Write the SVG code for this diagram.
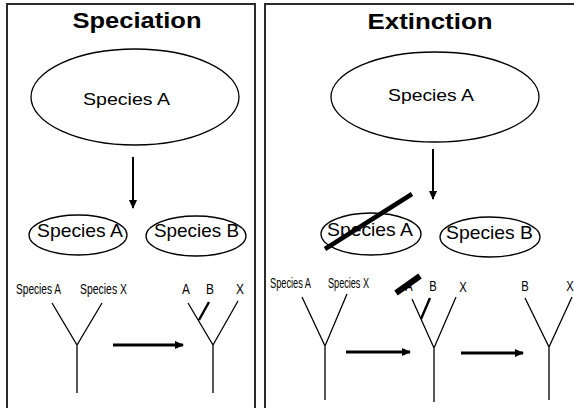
<svg xmlns="http://www.w3.org/2000/svg" width="574" height="408" viewBox="0 0 574 408">
  <defs>
    <style>
      .panel { fill: none; stroke: #2b2b2b; stroke-width: 2; }
      .title { font-family: "Liberation Sans", Arial, sans-serif; font-weight: bold; font-size: 22px; fill: #000; text-anchor: middle; }
      .node { fill: #fff; stroke: #000; stroke-width: 1.3; }
      .big { font-family: "Liberation Sans", Arial, sans-serif; font-size: 17px; fill: #000; }
      .mid { font-family: "Liberation Sans", Arial, sans-serif; font-size: 18.5px; fill: #000; }
      .lbl { font-family: "Liberation Sans", Arial, sans-serif; font-size: 14px; fill: #000; }
      .tree { fill: none; stroke: #000; stroke-width: 1.3; }
      .branch { fill: none; stroke: #000; stroke-width: 2.4; }
      .vlink { fill: none; stroke: #000; stroke-width: 2; marker-end: url(#head); }
      .hlink { fill: none; stroke: #000; stroke-width: 3; marker-end: url(#head); }
      .cross { fill: none; stroke: #000; stroke-width: 4.5; }
      .bar { fill: none; stroke: #000; stroke-width: 6; }
    </style>
    <marker id="head" markerUnits="userSpaceOnUse" markerWidth="9" markerHeight="8" refX="8" refY="4" orient="auto">
      <path d="M0,0 L9,4 L0,8 z" fill="#000"/>
    </marker>
  </defs>

  <rect width="574" height="408" fill="#fff"/>

  <!-- panel frames -->
  <rect class="panel" x="7" y="4" width="248" height="420"/>
  <rect class="panel" x="265" y="4" width="340" height="420"/>

  <!-- titles -->
  <text class="title" x="137" y="28" textLength="129" lengthAdjust="spacingAndGlyphs">Speciation</text>
  <text class="title" x="430" y="29" textLength="125" lengthAdjust="spacingAndGlyphs">Extinction</text>

  <!-- Speciation panel -->
  <g id="spec-parent">
    <ellipse class="node" cx="135" cy="97" rx="104" ry="48"/>
    <text class="big" x="83" y="105" textLength="87" lengthAdjust="spacingAndGlyphs">Species A</text>
  </g>
  <g id="spec-child-a">
    <ellipse class="node" cx="78" cy="235" rx="49" ry="20"/>
    <text class="mid" x="37" y="237" textLength="86" lengthAdjust="spacingAndGlyphs">Species A</text>
  </g>
  <g id="spec-child-b">
    <ellipse class="node" cx="196" cy="236" rx="50" ry="20"/>
    <text class="mid" x="154" y="237" textLength="85" lengthAdjust="spacingAndGlyphs">Species B</text>
  </g>

  <g id="spec-tree-before">
    <text class="lbl" x="16" y="294" textLength="45" lengthAdjust="spacingAndGlyphs">Species A</text>
    <text class="lbl" x="80" y="294" textLength="47" lengthAdjust="spacingAndGlyphs">Species X</text>
    <path class="tree" d="M52,303 L77,345 L102,303 M77,345 L77,393"/>
  </g>
  <g id="spec-tree-after">
    <text class="lbl" x="186" y="294" text-anchor="middle" transform="translate(186 0) scale(0.85 1) translate(-186 0)">A</text>
    <text class="lbl" x="210" y="294" text-anchor="middle" transform="translate(210 0) scale(0.85 1) translate(-210 0)">B</text>
    <text class="lbl" x="240" y="294" text-anchor="middle" transform="translate(240 0) scale(0.85 1) translate(-240 0)">X</text>
    <path class="tree" d="M188,303 L213,345 L238,301 M213,345 L213,393"/>
    <path class="branch" d="M209,302 L199,320"/>
  </g>

  <!-- Extinction panel -->
  <g id="ext-parent">
    <ellipse class="node" cx="435" cy="97" rx="104" ry="45"/>
    <text class="big" x="388" y="101" textLength="86" lengthAdjust="spacingAndGlyphs">Species A</text>
  </g>
  <g id="ext-child-a">
    <ellipse class="node" cx="371" cy="234" rx="50" ry="21"/>
    <text class="mid" x="327" y="236" textLength="86" lengthAdjust="spacingAndGlyphs">Species A</text>
    <path class="cross" d="M325,249 L412,194"/>
  </g>
  <g id="ext-child-b">
    <ellipse class="node" cx="490" cy="237" rx="50" ry="20"/>
    <text class="mid" x="446" y="239" textLength="87" lengthAdjust="spacingAndGlyphs">Species B</text>
  </g>

  <g id="ext-tree-before">
    <text class="lbl" x="270" y="288" textLength="41" lengthAdjust="spacingAndGlyphs">Species A</text>
    <text class="lbl" x="328" y="288" textLength="41" lengthAdjust="spacingAndGlyphs">Species X</text>
    <path class="tree" d="M302,297 L325,346 L347,294 M325,346 L325,400"/>
  </g>
  <g id="ext-tree-mid">
    <text class="lbl" x="409" y="291" text-anchor="middle" transform="translate(409 0) scale(0.8 1) translate(-409 0)">A</text>
    <text class="lbl" x="433" y="291" text-anchor="middle" transform="translate(433 0) scale(0.8 1) translate(-433 0)">B</text>
    <text class="lbl" x="463" y="292" text-anchor="middle" transform="translate(463 0) scale(0.8 1) translate(-463 0)">X</text>
    <path class="bar" d="M396,293 L420,276"/>
    <path class="tree" d="M412,299 L434,348 L456,297 M434,348 L434,402"/>
    <path class="branch" d="M430,298 L421,319"/>
  </g>
  <g id="ext-tree-after">
    <text class="lbl" x="525" y="291" text-anchor="middle" transform="translate(525 0) scale(0.8 1) translate(-525 0)">B</text>
    <text class="lbl" x="570" y="291" text-anchor="middle" transform="translate(570 0) scale(0.8 1) translate(-570 0)">X</text>
    <path class="tree" d="M525,298 L549,347 L572,297 M549,347 L549,400"/>
  </g>

  <!-- connectors -->
  <g id="connectors">
    <path class="vlink" d="M133,157 L133,208"/>
    <path class="vlink" d="M433,149 L433,199"/>
    <path class="hlink" d="M113,345 L183,345"/>
    <path class="hlink" d="M346,352 L410,352"/>
    <path class="hlink" d="M461,353 L523,353"/>
  </g>
</svg>
